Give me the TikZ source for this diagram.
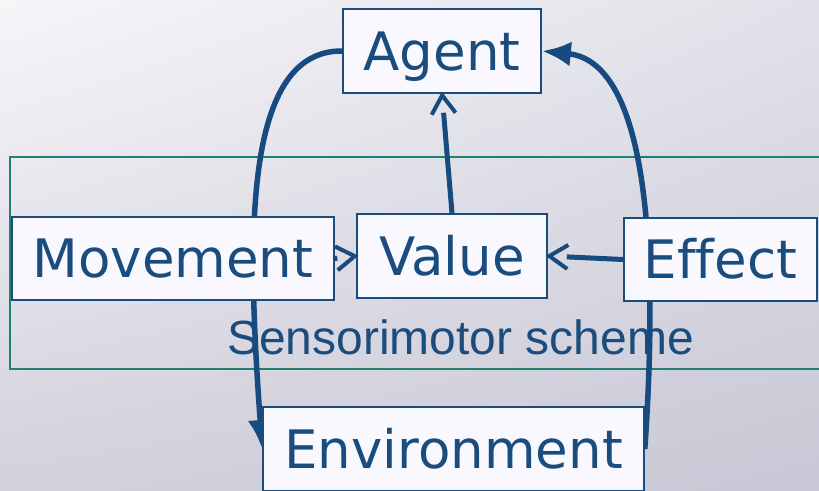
\documentclass[tikz,border=0pt]{standalone}
\usepackage{fontspec}
\setmainfont{DejaVu Sans}[Ligatures=NoCommon]
\newfontfamily\schemefont{Liberation Sans}
\usetikzlibrary{arrows.meta,shadings,decorations.markings}
\pgfdeclarelayer{back}
\pgfsetlayers{back,main}
\definecolor{bgA}{HTML}{F6F6F9}
\definecolor{bgB}{HTML}{E1E1E9}
\definecolor{bgC}{HTML}{D2D1DC}
\definecolor{bgD}{HTML}{C8C7D5}
\definecolor{ink}{HTML}{1A4C7E}
\definecolor{wire}{HTML}{174B80}
\definecolor{frame}{HTML}{1F8076}
\definecolor{boxfill}{HTML}{F8F8FE}
\begin{document}
\begin{tikzpicture}[x=1pt,y=-1pt,
  box/.style={draw=ink, line width=1.6pt, fill=boxfill, text=ink,
    font=\fontsize{53pt}{60pt}\selectfont, minimum height=84pt,
    text height=38.6pt, text depth=0pt, inner sep=0pt, anchor=center},
  loop/.style={draw=wire, line width=5.5pt, -{Latex[length=29pt,width=25pt]}},
  % straight feed: the shaft stops behind an open chevron at the target
  feed/.style={draw=wire, line width=5pt, shorten >=19pt,
    postaction={decorate},
    decoration={markings, mark=at position 0.9999 with {
      \draw[wire, line width=4pt, shorten >=0pt, line cap=butt, line join=miter]
        (-20pt,12pt) -- (-1.5pt,0pt) -- (-20pt,-12pt);}}},
]
\useasboundingbox (0,0) rectangle (819,490);
\clip (0,0) rectangle (819,490);

% boxes
\node[box, minimum width=198pt] (agent) at (442,51) {Agent};
\node[box, minimum width=190pt] (value) at (452,256) {Value};
\node[box, minimum width=322pt, minimum height=83pt] (movement) at (173,258.5) {Movement};
\node[box, minimum width=193pt, minimum height=83pt] (effect) at (720.5,259.5) {Effect};
\node[box, minimum width=381pt] (env) at (453.5,449) {Environment};

% inner feeds into Value and up to Agent
\draw[feed] (movement.east) -- (value.west);
\draw[feed] (effect.west) -- (value.east);
\draw[feed] (value.north) -- (agent.south);

\begin{pgfonlayer}{back}
  \shade[upper left=bgA, upper right=bgB, lower left=bgC, lower right=bgD]
    (0,0) rectangle (819,490);
  \draw[frame, line width=2pt] (10,156.5) rectangle (840,369);
  \node[text=ink, font=\schemefont\fontsize{48pt}{56pt}\selectfont,
    anchor=base, inner sep=0pt] (schemelabel) at (460.5,354.3) {Sensorimotor scheme};
  % outer loop: Agent acts on the Environment, the Environment reports back
  \draw[loop] (agent.west) .. controls (240,50) and (248,250) .. (env.west);
  \draw[loop] (env.east) .. controls (658,260) and (650,62) .. (agent.east);
\end{pgfonlayer}
\end{tikzpicture}
\end{document}
